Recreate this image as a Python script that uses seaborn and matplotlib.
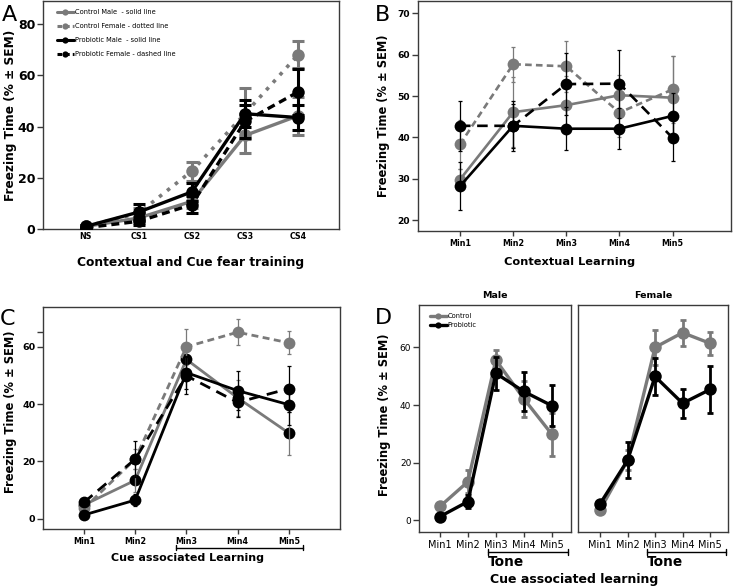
import numpy as np
import pandas as pd
import matplotlib
matplotlib.use("Agg")
import matplotlib.pyplot as plt
import matplotlib.transforms as mtransforms
from matplotlib.lines import Line2D
import seaborn as sns

# ── Datos ────────────────────────────────────────────────────────────────────
train_labels = ["NS", "CS1", "CS2", "CS3", "CS4"]
min_labels = ["Min1", "Min2", "Min3", "Min4", "Min5"]

# Panel A - Contextual and Cue fear training
a_ctrl_m = [1.0, 4.3, 10.8, 36.5, 44.2]
a_ctrl_m_sem = [0.5, 2.0, 2.5, 7.0, 7.5]
a_ctrl_f = [1.0, 6.2, 22.6, 45.0, 68.0]
a_ctrl_f_sem = [0.5, 2.0, 3.7, 10.0, 5.2]
a_prob_m = [1.0, 6.6, 14.5, 45.0, 43.5]
a_prob_m_sem = [0.5, 3.0, 3.4, 5.2, 5.0]
a_prob_f = [0.5, 3.0, 9.5, 42.0, 53.5]
a_prob_f_sem = [0.4, 1.5, 3.2, 6.5, 9.0]

# Panel B - Contextual Learning
b_ctrl_m = [29.8, 46.1, 47.8, 50.2, 49.6]
b_ctrl_m_sem = [2.5, 8.5, 7.0, 5.0, 10.2]
b_ctrl_f = [38.3, 57.7, 57.2, 46.0, 51.6]
b_ctrl_f_sem = [6.0, 4.2, 6.2, 6.0, 8.0]
b_prob_m = [28.2, 42.8, 42.1, 42.1, 45.2]
b_prob_m_sem = [5.8, 6.0, 5.2, 5.0, 5.5]
b_prob_f = [42.8, 42.8, 52.9, 53.0, 39.9]
b_prob_f_sem = [6.0, 5.3, 7.5, 8.2, 5.5]

# Panels C/D - Cue associated learning
c_ctrl_m = [4.8, 13.4, 55.6, 42.2, 29.9]
c_ctrl_m_sem = [1.0, 4.0, 3.5, 6.2, 7.5]
c_ctrl_f = [3.6, 20.8, 60.0, 65.1, 61.4]
c_ctrl_f_sem = [1.0, 3.5, 6.2, 4.5, 4.0]
c_prob_m = [1.3, 6.5, 51.0, 44.7, 39.8]
c_prob_m_sem = [0.8, 2.2, 5.8, 6.7, 7.0]
c_prob_f = [5.7, 20.8, 49.9, 40.6, 45.4]
c_prob_f_sem = [1.0, 6.2, 6.5, 5.1, 8.0]

a_yticks = [0, 20, 40, 60, 80]
b_yticks = [20, 30, 40, 50, 60, 70]
c_yticks = [0, 20, 40, 60, 65]
c_yticklabels = ["0", "20", "40", "60", ""]
d_yticks = [0, 20, 40, 60]

GRAY = "#7a7a7a"
BLACK = "#000000"
SPINE = "#3a3a3a"

sns.set_style("white")
plt.rcParams["font.family"] = ["DejaVu Sans"]
plt.rcParams.update({"text.color": "black", "axes.labelcolor": "black",
                     "xtick.color": "black", "ytick.color": "black"})

W, H = 733, 587
fig = plt.figure(figsize=(W / 100, H / 100), dpi=100)


def box(l, t, r, b):
    return [l / W, 1 - b / H, (r - l) / W, (b - t) / H]


def serie(ax, y, sem, color, ls, lw, ms, elw, cap, mcolor=None, ecolor=None, z=2):
    x = np.arange(len(y))
    df = pd.DataFrame({"x": x, "y": y})
    sns.lineplot(data=df, x="x", y="y", ax=ax, color=color, linestyle=ls, lw=lw,
                 marker="o", markersize=ms, markeredgewidth=0,
                 markerfacecolor=mcolor or color, errorbar=None, zorder=z)
    ax.errorbar(x, y, yerr=sem, fmt="none", ecolor=ecolor or color, elinewidth=elw,
                capsize=cap, capthick=elw, zorder=z + 0.5)


def estilo(ax, xlabels, yticks, ylim, xlim, tick_kw, xtick_len=3.5):
    ax.set_xlim(*xlim)
    ax.set_ylim(*ylim)
    ax.set_xticks(range(len(xlabels)))
    ax.set_xticklabels(xlabels, **tick_kw["x"])
    ax.set_yticks(yticks)
    for s in ax.spines.values():
        s.set_color(SPINE)
        s.set_linewidth(1.0)
    ax.tick_params(axis="y", direction="out", length=4, width=1, color=SPINE, pad=1.5, left=True)
    ax.tick_params(axis="x", direction="out", length=xtick_len, width=1, color=SPINE, pad=2, bottom=True)
    ax.set_xlabel("")
    ax.set_ylabel("")


def bracket(ax, x0, x1, y, h=0.012):
    tr = mtransforms.blended_transform_factory(ax.transData, ax.transAxes)
    ax.plot([x0, x1], [y, y], color=BLACK, lw=1.0, transform=tr, clip_on=False)
    for xx in (x0, x1):
        ax.plot([xx, xx], [y - h, y + h], color=BLACK, lw=1.0, transform=tr, clip_on=False)


# ── Panel A ──────────────────────────────────────────────────────────────────
axA = fig.add_axes(box(43, 1, 339, 229))
serie(axA, a_ctrl_m, a_ctrl_m_sem, GRAY, "-", 2.4, 9, 2.2, 4.5)
serie(axA, a_ctrl_f, a_ctrl_f_sem, GRAY, (0, (1, 1.8)), 2.6, 9, 2.2, 4.5)
serie(axA, a_prob_m, a_prob_m_sem, BLACK, "-", 2.4, 9, 2.2, 4.5, z=3)
serie(axA, a_prob_f, a_prob_f_sem, BLACK, (0, (2.4, 1.5)), 2.4, 9, 2.2, 4.5, z=3)
estilo(axA, train_labels, a_yticks, (0, 89), (-0.8, 4.77),
       {"x": dict(fontsize=5.7, fontweight="bold")}, xtick_len=0)
axA.tick_params(axis="y", labelsize=9)
for t in axA.get_yticklabels():
    t.set_fontweight("bold")
axA.set_xlabel("Contextual and Cue fear training", fontsize=8.8, fontweight="bold")
axA.xaxis.set_label_coords(0.497, -0.118)
axA.set_ylabel("Freezing Time (% \u00b1 SEM)", fontsize=8.7, fontweight="bold")
axA.yaxis.set_label_coords(-0.089, 0.5)

handles = [
    Line2D([], [], color=GRAY, lw=2.2, ls="-", marker="o", ms=4.5, markeredgewidth=0),
    Line2D([], [], color=GRAY, lw=2.2, ls=(0, (1.5, 1)), marker="o", ms=4.5, markeredgewidth=0),
    Line2D([], [], color=BLACK, lw=2.2, ls="-", marker="o", ms=4.5, markeredgewidth=0),
    Line2D([], [], color=BLACK, lw=2.2, ls=(0, (1.5, 1)), marker="o", ms=4.5, markeredgewidth=0),
]
labels = ["Control Male  - solid line", "Control Female - dotted line",
          "Probiotic Male  - solid line", "Probiotic Female - dashed line"]
axA.legend(handles, labels, loc="upper left", bbox_to_anchor=(0.03, 0.985), frameon=False,
           fontsize=4.8, handlelength=2.6, handletextpad=0.2, labelspacing=1.2,
           borderpad=0.2, markerscale=1)

# ── Panel B ──────────────────────────────────────────────────────────────────
axB = fig.add_axes(box(418, 1, 731, 231))
serie(axB, b_ctrl_m, b_ctrl_m_sem, GRAY, "-", 1.9, 8.5, 0.9, 1.5)
serie(axB, b_ctrl_f, b_ctrl_f_sem, GRAY, (0, (2.5, 1.6)), 1.9, 8.5, 0.9, 1.5)
serie(axB, b_prob_m, b_prob_m_sem, BLACK, "-", 1.9, 8.5, 0.9, 1.5, z=3)
serie(axB, b_prob_f, b_prob_f_sem, BLACK, (0, (4, 2.5)), 1.9, 8.5, 0.9, 1.5, z=3)
estilo(axB, min_labels, b_yticks, (17.35, 73), (-0.79, 5.1),
       {"x": dict(fontsize=5.8, fontweight="bold")})
axB.tick_params(axis="y", labelsize=6.6)
for t in axB.get_yticklabels():
    t.set_fontweight("bold")
axB.set_xlabel("Contextual Learning", fontsize=8.2, fontweight="bold")
axB.xaxis.set_label_coords(0.484, -0.111)
axB.set_ylabel("Freezing Time (% \u00b1 SEM)", fontsize=8.3, fontweight="bold")
axB.yaxis.set_label_coords(-0.089, 0.5)

# ── Panel C ──────────────────────────────────────────────────────────────────
axC = fig.add_axes(box(43, 307, 340, 529))
serie(axC, c_ctrl_m, c_ctrl_m_sem, GRAY, "-", 2.0, 8.5, 0.9, 1.5, mcolor=BLACK)
serie(axC, c_ctrl_f, c_ctrl_f_sem, GRAY, (0, (2.5, 1.6)), 2.0, 8.5, 0.9, 1.5)
serie(axC, c_prob_m, c_prob_m_sem, BLACK, "-", 2.0, 8.5, 0.9, 1.5, z=3)
serie(axC, c_prob_f, c_prob_f_sem, BLACK, (0, (4, 2.5)), 2.0, 8.5, 0.9, 1.5, z=3)
estilo(axC, min_labels, c_yticks, (-3.6, 73.9), (-0.8, 5.0),
       {"x": dict(fontsize=5.8, fontweight="bold")})
axC.set_yticklabels(c_yticklabels)
axC.tick_params(axis="y", labelsize=6.8)
for t in axC.get_yticklabels():
    t.set_fontweight("bold")
axC.set_xlabel("Cue associated Learning", fontsize=8.0, fontweight="bold")
axC.xaxis.set_label_coords(0.485, -0.11)
axC.set_ylabel("Freezing Time (% \u00b1 SEM)", fontsize=8.3, fontweight="bold")
axC.yaxis.set_label_coords(-0.089, 0.528)
bracket(axC, 1.8, 4.27, -0.084)

# ── Panel D ──────────────────────────────────────────────────────────────────
axDm = fig.add_axes(box(419, 305, 571, 532))
axDf = fig.add_axes(box(578, 305, 728, 532))
for ax, ctrl, ctrl_sem, prob, prob_sem, xlim in [
    (axDm, c_ctrl_m, c_ctrl_m_sem, c_prob_m, c_prob_m_sem, (-0.75, 4.69)),
    (axDf, c_ctrl_f, c_ctrl_f_sem, c_prob_f, c_prob_f_sem, (-0.8, 4.65)),
]:
    serie(ax, ctrl, ctrl_sem, GRAY, "-", 2.4, 9, 2.0, 2.5)
    serie(ax, prob, prob_sem, BLACK, "-", 2.4, 9, 2.0, 2.5, z=3)
    estilo(ax, min_labels, d_yticks, (-4.05, 74.7), xlim,
           {"x": dict(fontsize=7)})
    ax.tick_params(axis="y", labelsize=6.5)
    bracket(ax, 1.72, 4.58, -0.088)
    ax.text(1.72, -0.102, "Tone", transform=mtransforms.blended_transform_factory(ax.transData, ax.transAxes),
            ha="left", va="top", fontsize=9.8, fontweight="bold")
axDf.tick_params(axis="y", left=False, labelleft=False)
axDm.set_title("Male", fontsize=6.8, fontweight="bold", pad=5)
axDf.set_title("Female", fontsize=6.8, fontweight="bold", pad=5)
axDm.set_ylabel("Freezing Time (% \u00b1 SEM)", fontsize=8.3, fontweight="bold")
axDm.yaxis.set_label_coords(-0.186, 0.515)
d_handles = [
    Line2D([], [], color=GRAY, lw=2.4, marker="o", ms=4.5, markeredgewidth=0),
    Line2D([], [], color=BLACK, lw=2.4, marker="o", ms=4.5, markeredgewidth=0),
]
axDm.legend(d_handles, ["Control", "Probiotic"], loc="upper left", bbox_to_anchor=(0.04, 0.985),
            frameon=False, fontsize=4.8, handlelength=2.6, handletextpad=0.1,
            labelspacing=0.5, borderpad=0.2)
fig.text(573.7 / W, 1 - 573 / H, "Cue associated learning", ha="center", va="top",
         fontsize=9, fontweight="bold")

# ── Letras de panel ──────────────────────────────────────────────────────────
for letter, px, py in [("A", 2, 15), ("B", 375, 15), ("C", 0, 319), ("D", 375, 318)]:
    fig.text(px / W, 1 - py / H, letter, ha="left", va="center", fontsize=16)

fig.savefig("out.png", dpi=100)
